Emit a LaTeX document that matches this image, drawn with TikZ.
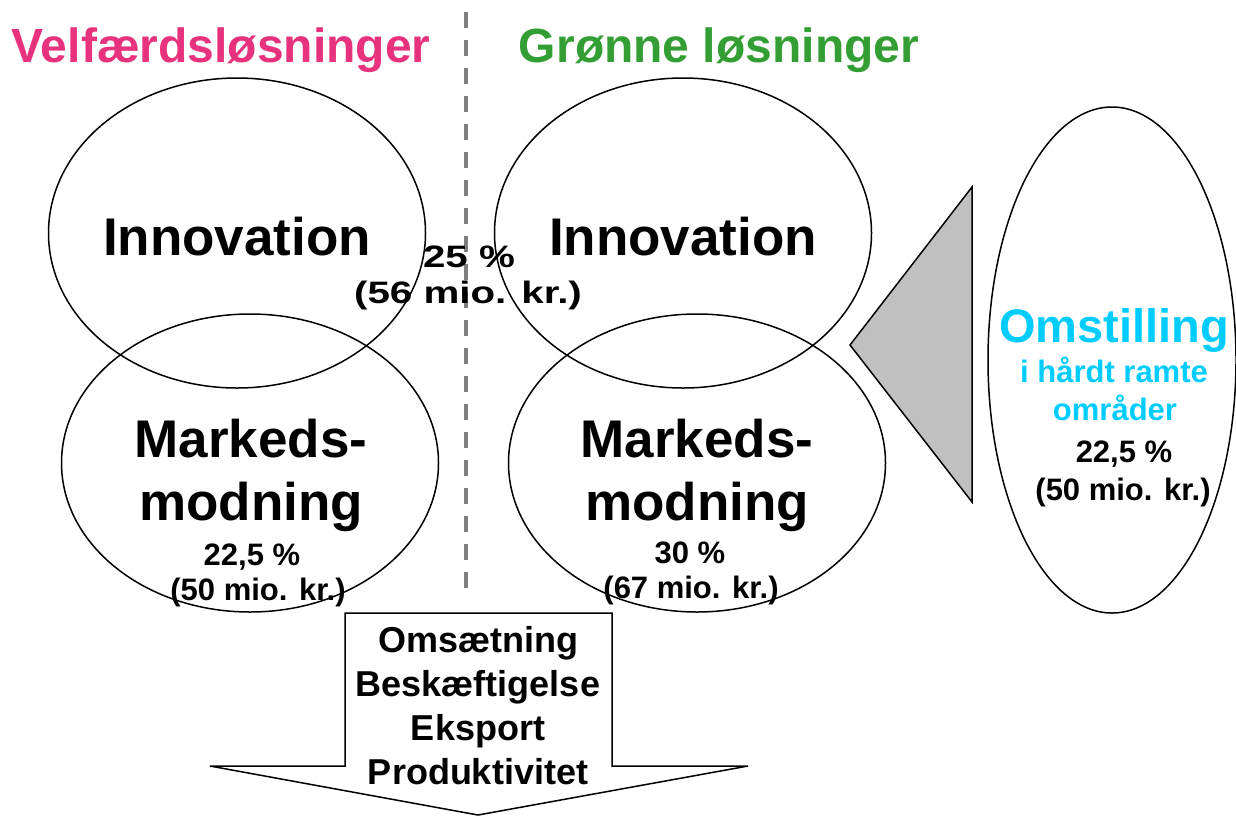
\documentclass[tikz,border=0pt]{standalone}
\usepackage{fontspec}
\setmainfont{Liberation Sans}
\newfontfamily\widefont[FakeStretch=1.3]{Liberation Sans}
\usetikzlibrary{shapes.geometric}
\definecolor{pinkt}{RGB}{231,50,125}
\definecolor{greent}{RGB}{51,158,51}
\definecolor{cyant}{RGB}{0,204,255}
\definecolor{trigray}{RGB}{192,192,192}
\definecolor{dashgray}{RGB}{128,128,128}
\begin{document}
\begin{tikzpicture}[x=1pt,y=-1pt,
  bubble/.style={draw,ellipse,line width=1.5pt,inner sep=0pt},
  lbl/.style={inner sep=0pt,anchor=base},
  title/.style={lbl,font=\fontsize{48}{56}\selectfont\bfseries},
  big/.style={lbl,font=\fontsize{53}{62}\selectfont\bfseries},
  small/.style={lbl,font=\fontsize{31}{37}\selectfont\bfseries},
  wide/.style={lbl,font=\widefont\fontsize{31}{36}\selectfont\bfseries},
  arrowtxt/.style={lbl,font=\fontsize{36}{43}\selectfont\bfseries}]
\useasboundingbox (0,0) rectangle (1236,815);

% titles
\node[title,text=pinkt] (tL) at (221,62) {Velfærdsløsninger};
\node[title,text=greent] (tR) at (719,62) {Grønne løsninger};

% dashed divider
\coordinate (dtop) at (466,12);
\coordinate (dbot) at (466,590);
\draw[dashgray,line width=3.5pt,dash pattern=on 16pt off 12pt] (dtop) -- (dbot);

% ellipses
\node[bubble,minimum width=377pt,minimum height=310pt] (inL) at (237,233) {};
\node[bubble,minimum width=377pt,minimum height=298pt] (mmL) at (250,463) {};
\node[bubble,minimum width=377pt,minimum height=310pt] (inR) at (683,233) {};
\node[bubble,minimum width=377pt,minimum height=298pt] (mmR) at (697,463) {};
\node[bubble,minimum width=248pt,minimum height=506pt] (om) at (1112,360) {};

% triangle
\coordinate (ttip) at (850,345);
\coordinate (ttop) at (972,187);
\coordinate (tbot) at (972,502);
\draw[fill=trigray,line width=1.5pt,line join=miter] (ttip) -- (ttop) -- (tbot) -- cycle;

% texts in ellipses
\node[big] (inLt) at (237,255) {Innovation};
\node[big] (inRt) at (683,255) {Innovation};
\node[big] (mmL1) at (251,457) {Markeds-};
\node[big] (mmL2) at (251,520) {modning};
\node[small] (mmL3) at (252,565) {22,5 \%};
\node[small] (mmL4) at (258,600) {(50 mio. kr.)};
\node[big] (mmR1) at (697,457) {Markeds-};
\node[big] (mmR2) at (697,520) {modning};
\node[small] (mmR3) at (690,563) {30 \%};
\node[small] (mmR4) at (691,598) {(67 mio. kr.)};

% shared innovation share
\node[wide] (sh1) at (469,267) {25 \%};
\node[wide] (sh2) at (468,303) {(56 mio. kr.)};

% omstilling
\node[lbl,font=\fontsize{47}{56}\selectfont\bfseries,text=cyant] (om1) at (1114,342) {Omstilling};
\node[small,text=cyant] (om2) at (1114,382) {i hårdt ramte};
\node[small,text=cyant] (om3) at (1115,420) {områder};
\node[small] (om4) at (1124,462) {22,5 \%};
\node[small] (om5) at (1123,500) {(50 mio. kr.)};

% down arrow
\coordinate (a1) at (345,613);
\coordinate (a2) at (612,613);
\coordinate (a3) at (612,766);
\coordinate (a4) at (748,766);
\coordinate (a5) at (478,815);
\coordinate (a6) at (210,766);
\coordinate (a7) at (345,766);
\draw[fill=white,line width=1.5pt,line join=miter] (a1) -- (a2) -- (a3) -- (a4) -- (a5) -- (a6) -- (a7) -- cycle;
\node[arrowtxt] (ar1) at (478,652) {Omsætning};
\node[arrowtxt] (ar2) at (478,696) {Beskæftigelse};
\node[arrowtxt] (ar3) at (478,740) {Eksport};
\node[arrowtxt] (ar4) at (478,784) {Produktivitet};
\end{tikzpicture}
\end{document}
